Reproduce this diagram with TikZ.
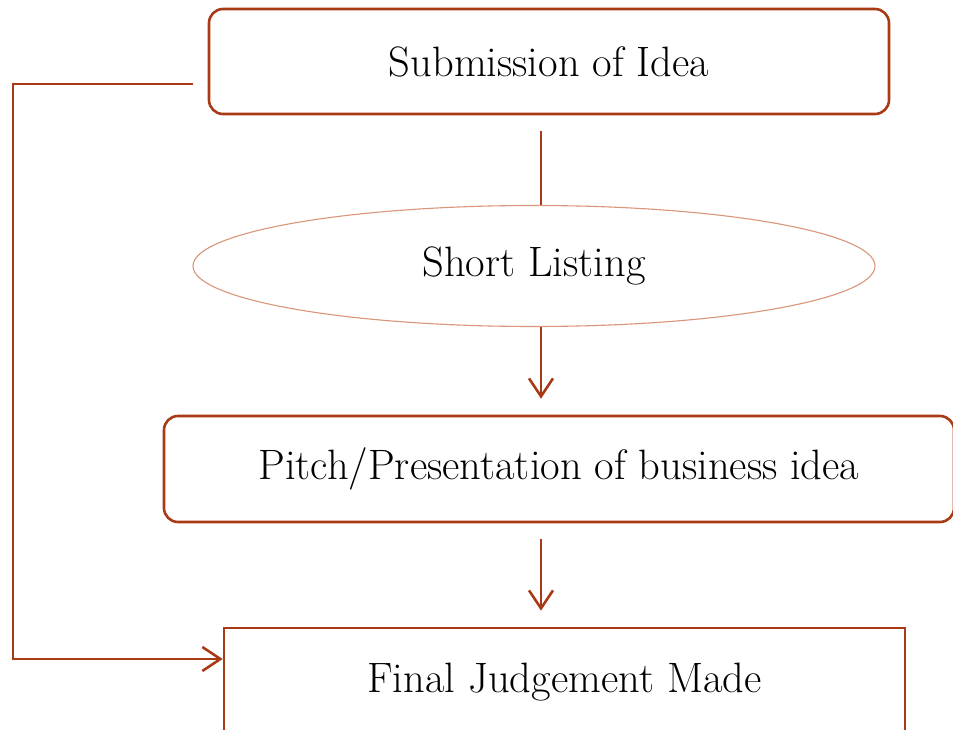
\documentclass[tikz,border=0pt]{standalone}
\usetikzlibrary{arrows.meta,shapes.geometric}
\definecolor{rust}{RGB}{168,58,22}
\definecolor{rustlight}{RGB}{218,150,122}
\begin{document}
\begin{tikzpicture}[x=1pt,y=-1pt,
  boxtext/.style={font=\fontsize{42.5}{48}\selectfont, text=black, inner sep=0pt},
  roundbox/.style={boxtext, draw=rust, line width=2.6pt, rounded corners=14pt},
  sharpbox/.style={boxtext, draw=rust, line width=2.6pt},
  ovalbox/.style={boxtext, ellipse, draw=rustlight, line width=1.1pt},
  conn/.style={draw=rust, line width=2.4pt},
  arr/.style={conn, -{Straight Barb[length=18pt,width=24pt,line width=2.6pt]}}]
\clip (0,0) rectangle (953,730);
\fill[white] (0,0) rectangle (953,730);
\node[roundbox, minimum width=680pt, minimum height=105pt] (sub) at (549,61.5) {Submission of Idea};
\node[ovalbox, minimum width=682pt, minimum height=121pt] (short) at (534,266) {Short Listing};
\node[roundbox, minimum width=790pt, minimum height=106pt] (pitch) at (559,469) {Pitch/Presentation of business idea};
\node[sharpbox, minimum width=681pt, minimum height=108pt] (final) at (564.5,682) {Final Judgement Made};
\coordinate (col) at (541,0);
\coordinate (lstart) at (193,84);
\coordinate (lcorner) at (13,84);
\draw[conn] ([yshift=-16pt]sub.south -| col) -- (short.north -| col);
\draw[arr] (short.south -| col) -- ([yshift=16pt]pitch.north -| col);
\draw[arr] ([yshift=-16pt]pitch.south -| col) -- ([yshift=16pt]final.north -| col);
\draw[arr] (lstart) -- (lcorner) |- ([yshift=23pt]final.west);
\end{tikzpicture}
\end{document}
